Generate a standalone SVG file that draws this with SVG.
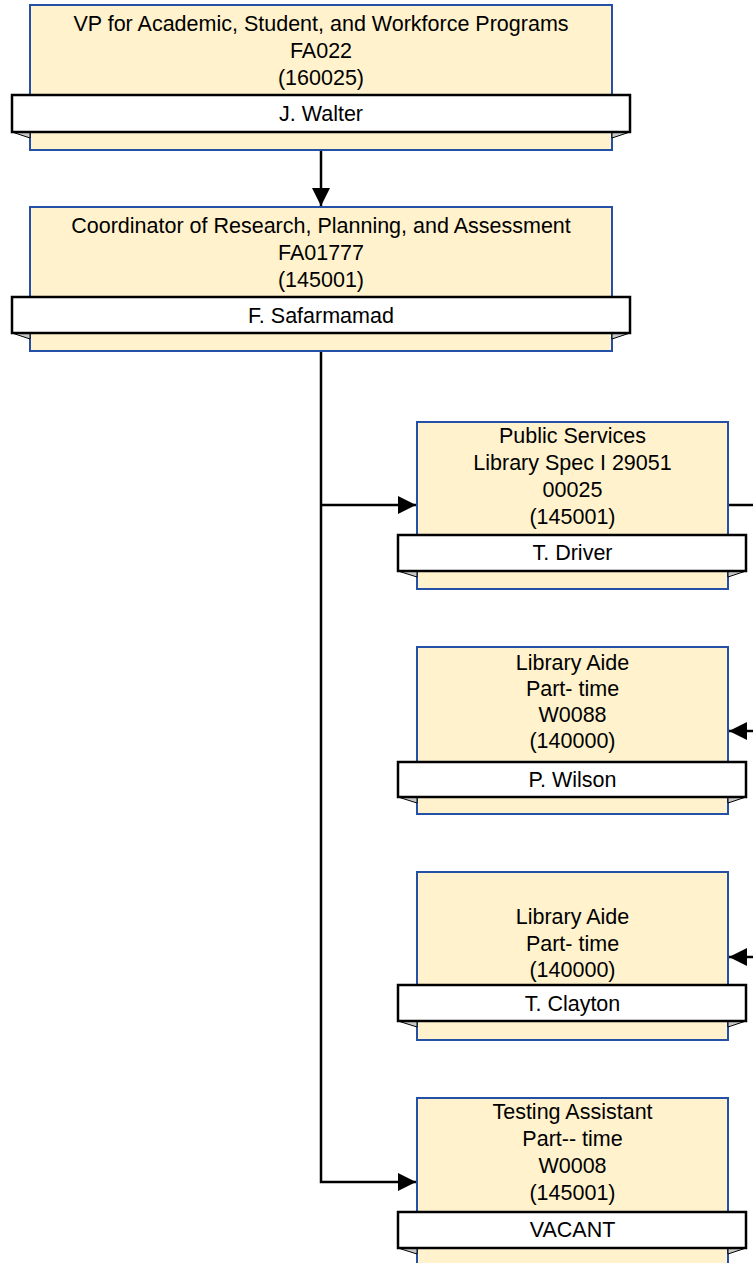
<svg xmlns="http://www.w3.org/2000/svg" width="753" height="1263" viewBox="0 0 753 1263">
<defs>
<marker id="arr" markerUnits="userSpaceOnUse" markerWidth="18" markerHeight="18" refX="18" refY="9" orient="auto">
<path d="M0,0 L18,9 L0,18 Z" fill="#000"/>
</marker>
<style>
.box{fill:#FFF2CC;stroke:#2450A8;stroke-width:2}
.ban{fill:#fff;stroke:#000;stroke-width:2.5}
.fold{fill:#C8C8C8;stroke:#000;stroke-width:1}
.t{font-family:"Liberation Sans",Arial,sans-serif;font-size:21.5px;fill:#000;text-anchor:middle;dominant-baseline:central}
.c{fill:none;stroke:#000;stroke-width:2.5}
</style>
</defs>
<rect width="753" height="1263" fill="#fff"/>
<g id="connectors">
<path class="c" d="M321,150 V206" marker-end="url(#arr)"/>
<path class="c" d="M321,350 V1182 H416" marker-end="url(#arr)"/>
<path class="c" d="M321,505 H416" marker-end="url(#arr)"/>
<path class="c" d="M728,505 H753"/>
<path class="c" d="M753,731 H729" marker-end="url(#arr)"/>
<path class="c" d="M753,957 H729" marker-end="url(#arr)"/>
</g>
<g id="n1">
<rect class="box" x="30" y="5" width="582" height="145"/>
<text class="t" x="321" y="24">VP for Academic, Student, and Workforce Programs</text>
<text class="t" x="321" y="51">FA022</text>
<text class="t" x="321" y="78">(160025)</text>
<polygon class="fold" points="12,132 30,132 30,138"/>
<polygon class="fold" points="630,132 612,132 612,138"/>
<rect class="ban" x="12" y="95" width="618" height="37"/>
<text class="t" x="321" y="114">J. Walter</text>
</g>
<g id="n2">
<rect class="box" x="30" y="207" width="582" height="144"/>
<text class="t" x="321" y="226">Coordinator of Research, Planning, and Assessment</text>
<text class="t" x="321" y="253">FA01777</text>
<text class="t" x="321" y="280">(145001)</text>
<polygon class="fold" points="12,333 30,333 30,339"/>
<polygon class="fold" points="630,333 612,333 612,339"/>
<rect class="ban" x="12" y="297" width="618" height="36"/>
<text class="t" x="321" y="316">F. Safarmamad</text>
</g>
<g id="n3">
<rect class="box" x="417" y="422" width="311" height="167"/>
<text class="t" x="572.5" y="436">Public Services</text>
<text class="t" x="572.5" y="463">Library Spec I 29051</text>
<text class="t" x="572.5" y="490">00025</text>
<text class="t" x="572.5" y="517">(145001)</text>
<polygon class="fold" points="398,571 417,571 417,577"/>
<polygon class="fold" points="746,571 728,571 728,577"/>
<rect class="ban" x="398" y="535" width="348" height="36"/>
<text class="t" x="572.5" y="553">T. Driver</text>
</g>
<g id="n4">
<rect class="box" x="417" y="647" width="311" height="167"/>
<text class="t" x="572.5" y="663">Library Aide</text>
<text class="t" x="572.5" y="689">Part- time</text>
<text class="t" x="572.5" y="715">W0088</text>
<text class="t" x="572.5" y="741">(140000)</text>
<polygon class="fold" points="398,797 417,797 417,803"/>
<polygon class="fold" points="746,797 728,797 728,803"/>
<rect class="ban" x="398" y="762" width="348" height="35"/>
<text class="t" x="572.5" y="780">P. Wilson</text>
</g>
<g id="n5">
<rect class="box" x="417" y="872" width="311" height="168"/>
<text class="t" x="572.5" y="917">Library Aide</text>
<text class="t" x="572.5" y="944">Part- time</text>
<text class="t" x="572.5" y="970">(140000)</text>
<polygon class="fold" points="398,1021 417,1021 417,1027"/>
<polygon class="fold" points="746,1021 728,1021 728,1027"/>
<rect class="ban" x="398" y="985" width="348" height="36"/>
<text class="t" x="572.5" y="1004">T. Clayton</text>
</g>
<g id="n6">
<rect class="box" x="417" y="1098" width="311" height="175"/>
<text class="t" x="572.5" y="1112">Testing Assistant</text>
<text class="t" x="572.5" y="1139">Part-- time</text>
<text class="t" x="572.5" y="1166">W0008</text>
<text class="t" x="572.5" y="1193">(145001)</text>
<polygon class="fold" points="398,1248 417,1248 417,1254"/>
<polygon class="fold" points="746,1248 728,1248 728,1254"/>
<rect class="ban" x="398" y="1212" width="348" height="36"/>
<text class="t" x="572.5" y="1230">VACANT</text>
</g>
</svg>
